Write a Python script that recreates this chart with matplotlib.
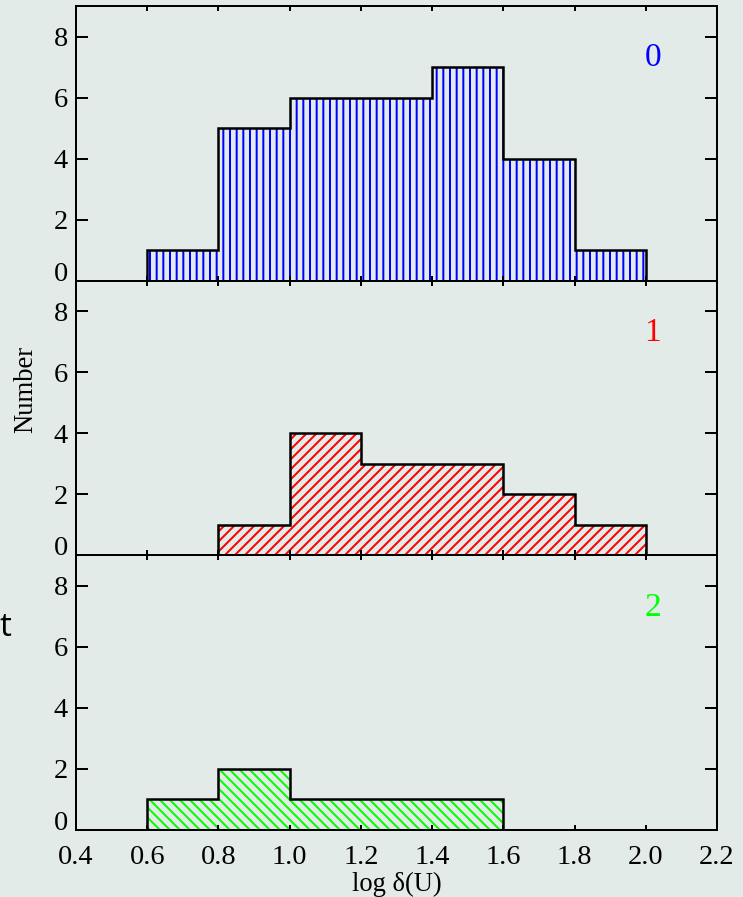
import numpy as np
import matplotlib
matplotlib.use("Agg")
import matplotlib.pyplot as plt

# data: bin edges and counts per panel
edges_0 = [0.6, 0.8, 1.0, 1.2, 1.4, 1.6, 1.8, 2.0]
counts_0 = [1, 5, 6, 6, 7, 4, 1]
edges_1 = [0.8, 1.0, 1.2, 1.4, 1.6, 1.8, 2.0]
counts_1 = [1, 4, 3, 3, 2, 1]
edges_2 = [0.6, 0.8, 1.0, 1.2, 1.4, 1.6]
counts_2 = [1, 2, 1, 1, 1]

panel_names = ["0", "1", "2"]
panel_colors = ["#0000ff", "#ff0000", "#00ff00"]
panel_hatches = ["|||", "////", "\\\\\\\\"]

x_ticks = [0.4, 0.6, 0.8, 1.0, 1.2, 1.4, 1.6, 1.8, 2.0, 2.2]
y_ticks = [0, 2, 4, 6, 8]

bg = "#e3ebe8"
plt.rcParams["font.family"] = ["Liberation Serif", "DejaVu Serif"]
plt.rcParams["hatch.linewidth"] = 1.2

fig = plt.figure(figsize=(743 / 120, 897 / 120), dpi=120, facecolor=bg)
gs = fig.add_gridspec(3, 1, left=0.1023, right=0.965, bottom=0.0747, top=0.9933, hspace=0)

data = [(edges_0, counts_0), (edges_1, counts_1), (edges_2, counts_2)]
for i, (edges, counts) in enumerate(data):
    ax = fig.add_subplot(gs[i])
    ax.set_facecolor(bg)
    edges = np.array(edges)
    counts = np.array(counts)

    # hatched fill
    ax.stairs(counts, edges, fill=True, facecolor="none",
              edgecolor=panel_colors[i], hatch=panel_hatches[i], linewidth=0)

    # black outline, padded with half a bin at zero on both ends
    half = (edges[1] - edges[0]) / 2
    ext_edges = np.concatenate([[edges[0] - half], edges, [edges[-1] + half]])
    ext_counts = np.concatenate([[0], counts, [0]])
    ax.stairs(ext_counts, ext_edges, color="black", linewidth=1.5, baseline=0)

    ax.set_xlim(0.4, 2.2)
    ax.set_ylim(0, 9)
    ax.set_xticks(x_ticks)
    ax.set_yticks(y_ticks)
    ax.tick_params(axis="both", which="both", direction="in", top=True, right=True,
                   width=1.2, labelsize=17)
    ax.tick_params(axis="y", length=7.2, pad=5)
    ax.tick_params(axis="x", length=3, pad=9)
    for sp in ax.spines.values():
        sp.set_linewidth(1.2)

    if i < 2:
        ax.set_xticklabels([])
    else:
        ax.set_xticklabels(["%.1f" % t for t in x_ticks])

    # lift the "0" label off the panel border
    ax.get_yticklabels()[0].set_verticalalignment("baseline")

    ax.text(0.900, 0.81, panel_names[i], transform=ax.transAxes, color=panel_colors[i],
            fontsize=20, ha="center", va="center")

fig.text(0.034, 0.566, "Number", rotation=90, ha="center", va="center", fontsize=16)
fig.text(0.534, 0.0145, "log δ(U)", ha="center", va="center", fontsize=16)
fig.text(0.0, 0.30, "t", ha="left", va="center", fontsize=20, family="Open Sans")

plt.savefig("out.png", dpi=120, facecolor=bg)
